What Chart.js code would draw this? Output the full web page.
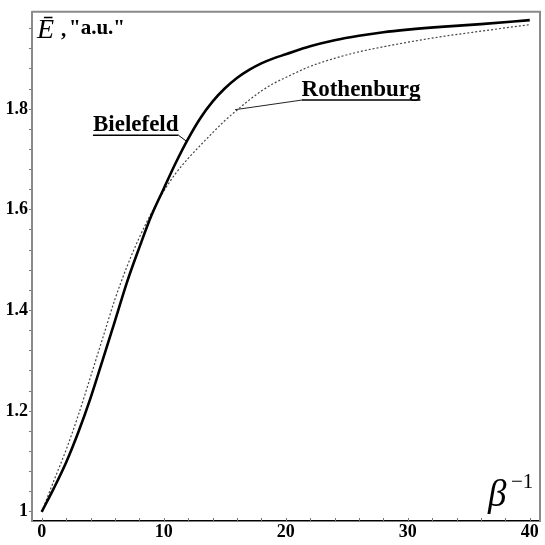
<!DOCTYPE html>
<html lang="en">
<head>
    <meta charset="UTF-8">
    <title>Bielefeld vs Rothenburg</title>
    <script src="https://cdn.jsdelivr.net/npm/chart.js@4"></script>
    <style>
        html, body { margin: 0; padding: 0; background: #fff; }
        canvas { display: block; }
    </style>
</head>
<body>
    <canvas id="chart" width="545" height="545"></canvas>

    <script>
        // values
        const xVals = [0, 1, 2, 3, 4, 5, 6, 7, 8, 9, 10, 11, 12, 13, 14, 15, 16, 17, 18, 19, 20, 22, 24, 26, 28, 30, 33, 36, 40];
        const bielefeld = [1.000, 1.047, 1.098, 1.158, 1.226, 1.302, 1.379, 1.457, 1.525, 1.589, 1.642, 1.694, 1.741, 1.782, 1.815, 1.841, 1.862, 1.878, 1.891, 1.901, 1.909, 1.925, 1.937, 1.946, 1.953, 1.958, 1.964, 1.969, 1.977];
        const rothenburg = [1.000, 1.062, 1.123, 1.192, 1.268, 1.345, 1.422, 1.488, 1.545, 1.594, 1.637, 1.673, 1.702, 1.728, 1.753, 1.777, 1.798, 1.818, 1.836, 1.851, 1.863, 1.885, 1.901, 1.914, 1.924, 1.933, 1.945, 1.955, 1.968];

        const xTicks = [0, 2, 4, 6, 8, 10, 12, 14, 16, 18, 20, 22, 24, 26, 28, 30, 32, 34, 36, 38, 40];
        const xLabelTicks = [0, 10, 20, 30, 40];
        const yTicks = [1, 1.04, 1.08, 1.12, 1.16, 1.2, 1.24, 1.28, 1.32, 1.36, 1.4, 1.44, 1.48, 1.52, 1.56, 1.6, 1.64, 1.68, 1.72, 1.76, 1.8, 1.84, 1.88, 1.92, 1.96];
        const yLabelTicks = ['1', '1.2', '1.4', '1.6', '1.8'];

        // label anchors in data units: [text x, text y, pointer x, pointer y]
        const bielefeldNote = [4.2, 1.756, 11.88, 1.736];
        const rothenburgNote = [21.3, 1.826, 15.85, 1.799];

        const serif = '"Liberation Serif", "Times New Roman", serif';

        const innerTicks = {
            id: 'innerTicks',
            afterDraw(chart) {
                const ctx = chart.ctx;
                const a = chart.chartArea;
                const xs = chart.scales.x;
                ctx.save();
                // frame top and right
                ctx.strokeStyle = '#8a8a8a';
                ctx.lineWidth = 2;
                ctx.beginPath();
                ctx.moveTo(a.left, a.top);
                ctx.lineTo(a.right, a.top);
                ctx.lineTo(a.right, a.bottom);
                ctx.stroke();
                // x ticks pointing up
                ctx.strokeStyle = '#777';
                ctx.lineWidth = 1;
                xTicks.forEach(v => {
                    const px = Math.round(xs.getPixelForValue(v)) + 0.5;
                    ctx.beginPath();
                    ctx.moveTo(px, a.bottom);
                    ctx.lineTo(px, a.bottom - 3);
                    ctx.stroke();
                });
                ctx.restore();
            }
        };

        const notes = {
            id: 'notes',
            afterDraw(chart) {
                const ctx = chart.ctx;
                const xs = chart.scales.x, ys = chart.scales.y;
                ctx.save();
                ctx.fillStyle = '#000';
                ctx.textBaseline = 'alphabetic';

                function note(text, n, pointerFromRight, lineColor) {
                    ctx.font = 'bold 23px ' + serif;
                    const tx = xs.getPixelForValue(n[0]);
                    const ty = ys.getPixelForValue(n[1]);
                    const w = ctx.measureText(text).width;
                    ctx.fillText(text, tx, ty);
                    const uy = ty + 4;
                    ctx.strokeStyle = '#000';
                    ctx.lineWidth = 1.5;
                    ctx.beginPath();
                    ctx.moveTo(tx, uy);
                    ctx.lineTo(tx + w, uy);
                    ctx.stroke();
                    ctx.strokeStyle = lineColor;
                    ctx.lineWidth = 1;
                    ctx.beginPath();
                    ctx.moveTo(pointerFromRight ? tx + w : tx, uy);
                    ctx.lineTo(xs.getPixelForValue(n[2]), ys.getPixelForValue(n[3]));
                    ctx.stroke();
                }
                note('Bielefeld', bielefeldNote, true, '#000');
                note('Rothenburg', rothenburgNote, false, '#222');

                // y axis title
                ctx.font = 'italic 28px ' + serif;
                ctx.fillText('Ē', 37, 38);
                ctx.font = 'bold 21px ' + serif;
                ctx.fillText(',', 61, 36);
                ctx.fillText('"a.u."', 69, 34);

                // x axis title
                ctx.font = 'italic 37px ' + serif;
                ctx.fillText('β', 488, 506);
                ctx.font = '21px ' + serif;
                ctx.fillText('−1', 511, 488);
                ctx.restore();
            }
        };

        const ctx = document.getElementById('chart').getContext('2d');
        const chart = new Chart(ctx, {
            type: 'line',
            data: {
                labels: xVals,
                datasets: [{
                    label: 'Bielefeld',
                    data: xVals.map((x, i) => ({ x: x, y: bielefeld[i] })),
                    borderColor: '#000',
                    borderWidth: 2.6,
                    pointRadius: 0,
                    cubicInterpolationMode: 'monotone',
                    fill: false
                }, {
                    label: 'Rothenburg',
                    data: xVals.map((x, i) => ({ x: x, y: rothenburg[i] })),
                    borderColor: '#444',
                    borderWidth: 1.2,
                    borderDash: [2, 2],
                    pointRadius: 0,
                    cubicInterpolationMode: 'monotone',
                    fill: false
                }]
            },
            options: {
                responsive: false,
                animation: false,
                layout: { padding: { left: 0, top: 7, right: 5, bottom: 0 } },
                plugins: {
                    legend: { display: false },
                    tooltip: { enabled: false }
                },
                scales: {
                    x: {
                        type: 'linear',
                        min: -0.795,
                        max: 40.84,
                        afterBuildTicks: s => { s.ticks = xLabelTicks.map(v => ({ value: v })); },
                        afterFit: s => { s.height = 24; },
                        grid: { display: false, drawTicks: false },
                        border: { display: true, color: '#000', width: 1.5 },
                        ticks: {
                            autoSkip: false,
                            maxRotation: 0,
                            padding: 1,
                            color: '#000',
                            font: { family: serif, size: 18, weight: 'bold' },
                            callback: v => String(v)
                        }
                    },
                    y: {
                        type: 'linear',
                        min: 0.9817,
                        max: 1.9935,
                        afterBuildTicks: s => { s.ticks = yTicks.map(v => ({ value: v })); },
                        afterFit: s => { s.width = 32; },
                        grid: { drawOnChartArea: false, drawTicks: true, tickLength: 3, color: '#777' },
                        border: { display: true, color: '#8a8a8a', width: 2 },
                        ticks: {
                            autoSkip: false,
                            padding: 1,
                            color: '#000',
                            font: { family: serif, size: 18, weight: 'bold' },
                            callback: v => {
                                const k = Math.round((v - 1) / 0.2);
                                return Math.abs(v - 1 - k * 0.2) < 1e-6 ? yLabelTicks[k] : '';
                            }
                        }
                    }
                }
            },
            plugins: [innerTicks, notes]
        });
    </script>
</body>
</html>
